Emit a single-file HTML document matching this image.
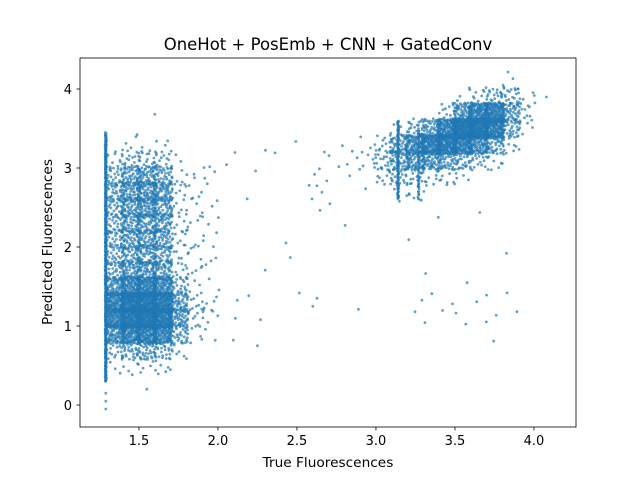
<!DOCTYPE html>
<html><head><meta charset="utf-8">
<style>
html,body{margin:0;padding:0;background:#fff;}
svg{display:block;font-family:"DejaVu Sans","Liberation Sans",sans-serif;}
</style></head>
<body>
<svg id="chart" width="640" height="480" viewBox="0 0 640 480">
  <rect x="0" y="0" width="640" height="480" fill="#fff"/>
  <g id="points"></g>
  <rect x="80" y="58" width="496" height="369" fill="none" stroke="#000" stroke-width="0.8"/>
  <g id="axes"></g>
  <text x="328" y="50" text-anchor="middle" font-size="16.5">OneHot + PosEmb + CNN + GatedConv</text>
  <text x="328" y="467" text-anchor="middle" font-size="13.7">True Fluorescences</text>
  <text x="52" y="242" text-anchor="middle" font-size="13.7" transform="rotate(-90 52 242)">Predicted Fluorescences</text>
</svg>
<script>
// Tick data
const xTicks = [1.5, 2.0, 2.5, 3.0, 3.5, 4.0];
const xTickLabels = ["1.5", "2.0", "2.5", "3.0", "3.5", "4.0"];
const yTicks = [0, 1, 2, 3, 4];
const yTickLabels = ["0", "1", "2", "3", "4"];

// Density cells (2D histogram): center x, center y, count
const cellX = [
 1.35,1.45,1.55,1.65,1.75, 1.35,1.45,1.55,1.65,1.75, 1.35,1.45,1.55,1.65,1.75, 1.35,1.45,1.55,1.65,1.75,
 1.35,1.45,1.55,1.65,1.75, 1.35,1.45,1.55,1.65,1.75, 1.35,1.45,1.55,1.65,1.75, 1.35,1.45,1.55,1.65,1.75,
 1.35,1.45,1.55,1.65,1.75, 1.35,1.45,1.55,1.65,1.75, 1.35,1.45,1.55,1.65,1.75, 1.35,1.45,1.55,1.65,1.75,
 1.35,1.45,1.55,1.65,1.75, 1.35,1.45,1.55,1.65,1.75, 1.35,1.45,1.55,1.65,1.75,
 1.85,1.85,1.85,1.85,1.85,1.85,1.85,1.85,1.85,1.85,1.85,
 1.95,1.95,1.95,1.95,1.95,1.95,1.95,1.95,1.95,1.95,1.95,1.95,
 2.05,2.05,2.05,2.15,2.15,2.15,2.25,2.25,2.25,2.35,2.35,2.45,2.45,2.55,2.55,2.65,2.65,2.65,2.65,2.75,2.75,2.85,2.85,2.85,2.95,2.95,2.95,
 2.05,2.25,2.45,2.65,2.85,
 3.05,3.05,3.05,
 3.15,3.15,3.15,3.15,3.15,
 3.25,3.25,3.25,3.25,3.25,
 3.35,3.35,3.35,3.35,
 3.45,3.45,3.45,3.45,3.45,
 3.55,3.55,3.55,3.55,3.55,3.55,
 3.65,3.65,3.65,3.65,3.65,
 3.75,3.75,3.75,3.75,3.75,
 3.85,3.85,3.85,3.85,3.85,
 3.95,3.95,3.95, 4.05,
 3.25,3.35,3.45,3.55,3.65,3.75,3.85, 3.35,3.55,3.75, 3.15,3.45,3.65,3.85
];
const cellY = [
 0.5,0.5,0.5,0.5,0.5, 0.7,0.7,0.7,0.7,0.7, 0.9,0.9,0.9,0.9,0.9, 1.1,1.1,1.1,1.1,1.1,
 1.3,1.3,1.3,1.3,1.3, 1.5,1.5,1.5,1.5,1.5, 1.7,1.7,1.7,1.7,1.7, 1.9,1.9,1.9,1.9,1.9,
 2.1,2.1,2.1,2.1,2.1, 2.3,2.3,2.3,2.3,2.3, 2.5,2.5,2.5,2.5,2.5, 2.7,2.7,2.7,2.7,2.7,
 2.9,2.9,2.9,2.9,2.9, 3.1,3.1,3.1,3.1,3.1, 3.3,3.3,3.3,3.3,3.3,
 0.9,1.1,1.3,1.5,1.7,1.9,2.1,2.3,2.5,2.7,2.9,
 0.9,1.1,1.3,1.5,1.7,1.9,2.1,2.3,2.5,2.7,2.9,3.1,
 1.1,2.1,3.1,1.3,2.5,3.3,1.1,2.9,3.3,1.7,3.1,2.1,3.3,1.3,2.9,2.5,2.7,2.9,3.1,2.3,3.1,2.9,3.1,3.3,3.1,3.3,2.7,
 0.7,1.5,1.9,1.3,1.3,
 2.9,3.1,3.3,
 2.7,2.9,3.1,3.3,3.5,
 2.7,2.9,3.1,3.3,3.5,
 2.9,3.1,3.3,3.5,
 2.9,3.1,3.3,3.5,3.7,
 2.9,3.1,3.3,3.5,3.7,3.9,
 3.1,3.3,3.5,3.7,3.9,
 3.1,3.3,3.5,3.7,3.9,
 3.3,3.5,3.7,3.9,4.1,
 3.5,3.7,3.9, 3.9,
 1.1,1.3,1.3,1.1,1.3,1.1,1.3, 1.7,1.5,0.9, 2.1,2.3,2.5,1.9
];
const cellN = [
 3,6,8,5,2, 20,32,38,28,8, 80,120,130,110,35, 130,190,200,170,55,
 130,190,200,170,55, 70,110,120,100,25, 35,55,60,50,12, 30,42,46,40,8,
 30,48,52,46,8, 30,48,52,46,8, 35,55,60,52,8, 35,60,66,60,8,
 28,46,52,40,6, 12,17,19,14,3, 1,3,4,3,0,
 6,10,10,6,4,4,4,4,4,4,4,
 2,5,5,2,2,2,2,2,2,2,2,1,
 1,1,1,1,1,1,1,1,1,1,1,1,1,1,1,2,3,2,2,1,2,2,3,2,3,2,1,
 1,1,1,1,1,
 12,22,12,
 6,18,45,45,6,
 6,20,60,90,22,
 12,60,140,50,
 10,45,160,125,14,
 6,30,135,200,70,4,
 20,90,210,125,12,
 10,45,145,135,24,
 10,35,50,24,4,
 5,10,6, 1,
 2,2,2,2,2,2,2, 1,1,1, 1,1,1,1
];
const cellW = 0.1, cellH = 0.2;

// Vertical stripes (many samples at a single true value)
const lineX = [1.29, 3.14, 3.27];
const lineY0 = [0.3, 2.6, 2.6];
const lineY1 = [3.45, 3.6, 3.5];
const lineN = [420, 90, 50];
// Isolated outlier points
const outX = [1.29, 1.29, 1.29, 1.6, 1.55, 2.6, 2.25];
const outY = [-0.05, 0.05, 0.15, 3.68, 0.2, 1.25, 0.75];

// Axis functions
const X0 = 80, X1 = 576, Y0 = 427, Y1 = 58;
const xMin = 1.127, xMax = 4.266, yMin = -0.278, yMax = 4.392;
const sx = v => X0 + (v - xMin) / (xMax - xMin) * (X1 - X0);
const sy = v => Y0 - (v - yMin) / (yMax - yMin) * (Y0 - Y1);

const NS = "http://www.w3.org/2000/svg";
const pts = document.getElementById("points");
const axes = document.getElementById("axes");
function halton(i, b){ let f = 1, r = 0; while (i > 0){ f /= b; r += f * (i % b); i = Math.floor(i / b); } return r; }
const SPREAD = 1.25; // cells overlap slightly so edges blend
let k = 1;
function dot(x, y){
  const c = document.createElementNS(NS, "circle");
  c.setAttribute("cx", sx(x).toFixed(1));
  c.setAttribute("cy", sy(y).toFixed(1));
  c.setAttribute("r", "1.4");
  c.setAttribute("fill", "#1f77b4");
  c.setAttribute("fill-opacity", "0.7");
  
  
  pts.appendChild(c);
}
for (let i = 0; i < cellX.length; i++){
  for (let j = 0; j < cellN[i]; j++){
    const u = halton(k, 2) - 0.5, v = halton(k, 3) - 0.5; k++;
    dot(cellX[i] + u * cellW * SPREAD, cellY[i] + v * cellH * SPREAD);
  }
}
for (let i = 0; i < lineX.length; i++){
  for (let j = 0; j < lineN[i]; j++){
    const u = halton(k, 2), v = halton(k, 3); k++;
    dot(lineX[i] + (u - 0.5) * 0.008, lineY0[i] + v * (lineY1[i] - lineY0[i]));
  }
}
for (let i = 0; i < outX.length; i++) dot(outX[i], outY[i]);

// Ticks
xTicks.forEach((t, i) => {
  const l = document.createElementNS(NS, "line");
  l.setAttribute("x1", sx(t)); l.setAttribute("x2", sx(t));
  l.setAttribute("y1", Y0); l.setAttribute("y2", Y0 + 3.5);
  l.setAttribute("stroke", "#000"); l.setAttribute("stroke-width", "0.8");
  
  
  axes.appendChild(l);
  const tx = document.createElementNS(NS, "text");
  tx.setAttribute("x", sx(t)); tx.setAttribute("y", Y0 + 18);
  tx.setAttribute("text-anchor", "middle"); tx.setAttribute("font-size", "13");
  tx.textContent = xTickLabels[i];
  
  
  axes.appendChild(tx);
});
yTicks.forEach((t, i) => {
  const l = document.createElementNS(NS, "line");
  l.setAttribute("x1", X0 - 3.5); l.setAttribute("x2", X0);
  l.setAttribute("y1", sy(t)); l.setAttribute("y2", sy(t));
  l.setAttribute("stroke", "#000"); l.setAttribute("stroke-width", "0.8");
  
  
  axes.appendChild(l);
  const tx = document.createElementNS(NS, "text");
  tx.setAttribute("x", X0 - 8); tx.setAttribute("y", sy(t) + 5);
  tx.setAttribute("text-anchor", "end"); tx.setAttribute("font-size", "13");
  tx.textContent = yTickLabels[i];
  
  
  axes.appendChild(tx);
});
</script>
</body></html>
